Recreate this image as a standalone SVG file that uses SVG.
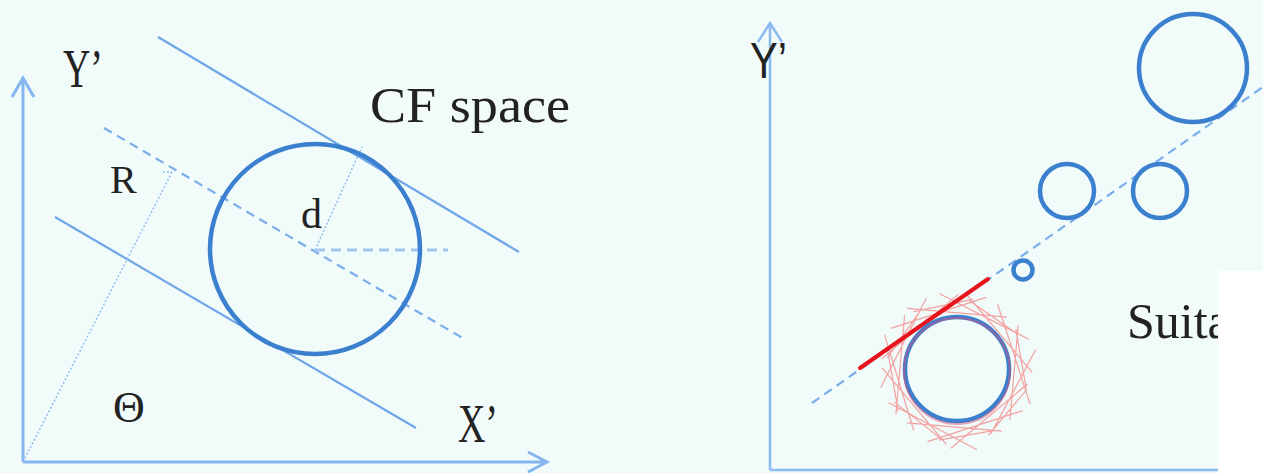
<svg xmlns="http://www.w3.org/2000/svg" width="1263" height="473" viewBox="0 0 1263 473">
<style>
.axis{stroke:#86b6ef;stroke-width:3;fill:none}
.axisR{stroke:#8cbaf2;stroke-width:2.5;fill:none}
.solid{stroke:#6fa6e8;stroke-width:2.2;fill:none}
.dash{stroke:#7aaeea;stroke-width:2.2;fill:none;stroke-dasharray:9 6}
.dot{stroke:#8cbaf0;stroke-width:1.4;fill:none;stroke-dasharray:2 2}
.circ{stroke:#3b80cf;stroke-width:4.5;fill:none}
.lbl{font-family:"Liberation Serif",serif;fill:#222}
.lblS{font-family:"Liberation Sans",sans-serif;fill:#222}
.tang{stroke:#f28a8a;stroke-width:1.2;fill:none;opacity:0.8}
</style>
<rect width="1263" height="473" fill="#f1fbf9"/>
<g id="connectors">
  <path class="axis" d="M23,462 V78 M12,97 L23,78 L34,97"/>
  <path class="axis" d="M23,462 H547 M528,452 L547,462 L528,472"/>
  <line class="solid" x1="158" y1="37" x2="519" y2="252"/>
  <line class="solid" x1="55" y1="217" x2="416" y2="428"/>
  <line class="dash" x1="104" y1="128" x2="466" y2="340"/>
  <path class="dot" d="M23,462 L172,172 M163,172 H172"/>
  <line class="dot" x1="315" y1="250" x2="362" y2="147"/>
  <line x1="315" y1="250" x2="448" y2="250" stroke="#a5c8f3" stroke-width="3" stroke-dasharray="10 6"/>
  <path class="axisR" d="M770,470 V23 M758,42 L770,23 L782,42"/>
  <path class="axisR" d="M770,470 H1263"/>
  <line class="dash" x1="812" y1="403" x2="1263" y2="87"/>
  <path class="tang" d="M1018.2,325.2 L1009.9,419.8 M1035.8,349.5 L991.2,433.4 M1027.5,384 L950.9,448.3 M1022.8,410.6 L927.6,441.6 M1001.8,431.2 L907.2,422.9 M977,449.7 L888.7,402.8 M946.3,444.3 L881.9,367.7 M913.7,430.2 L884.5,334.6 M895.9,414.8 L904.6,315.2 M880.8,387.4 L926.2,298.2 M882,358.5 L958.6,294.1 M890.9,328.4 L986.1,297.4 M907.2,308.4 L1006.8,317.1 M939.6,293.8 L1028.8,339.2 M967.7,295.7 L1032.1,372.3 M997.6,304.2 L1030.1,404.1 M1026.9,389.4 L988.3,435.4 M941.2,438.9 L894,401.9 M887.4,357.9 L921.8,308.7 M969.1,300.4 L1018.3,334.8 M993.1,430.7 L939,440.2 M898.2,410.9 L887.8,351.7 M914,311.7 L972.6,299.3 M1015.8,329.2 L1026.2,388.3"/>
  <line x1="860" y1="368" x2="988" y2="279" stroke="#e8141c" stroke-width="4" stroke-linecap="round"/>
</g>
<g id="cf-circle"><circle class="circ" cx="315" cy="249" r="105"/></g>
<g id="circle-big"><circle class="circ" cx="1193" cy="68" r="54"/></g>
<g id="circle-mid-left"><circle class="circ" cx="1067" cy="191" r="27"/></g>
<g id="circle-mid-right"><circle class="circ" cx="1160" cy="191" r="27"/></g>
<g id="circle-small"><circle class="circ" cx="1023" cy="270" r="9.5" stroke-width="4"/></g>
<g id="circle-fit">
  <circle class="circ" cx="957" cy="369" r="52"/>
  <circle cx="957" cy="371" r="53" fill="none" stroke="#d9507a" stroke-width="2" opacity="0.5"/>
</g>
<g id="labels">
  <text class="lbl" x="63" y="87" font-size="54" textLength="40" lengthAdjust="spacingAndGlyphs">Y’</text>
  <text class="lbl" x="370" y="122" font-size="50" textLength="200" lengthAdjust="spacingAndGlyphs">CF space</text>
  <text class="lbl" x="110" y="193" font-size="40">R</text>
  <text class="lbl" x="301" y="228" font-size="42">d</text>
  <text class="lbl" x="113" y="422" font-size="44">Θ</text>
  <text class="lbl" x="458" y="442" font-size="54" textLength="40" lengthAdjust="spacingAndGlyphs">X’</text>
  <text class="lblS" x="750" y="78" font-size="50" textLength="37" lengthAdjust="spacingAndGlyphs">Y’</text>
  <text class="lbl" x="1127" y="338" font-size="50">Suita</text>
</g>
<rect x="1218" y="271" width="45" height="202" fill="#ffffff"/>
</svg>
